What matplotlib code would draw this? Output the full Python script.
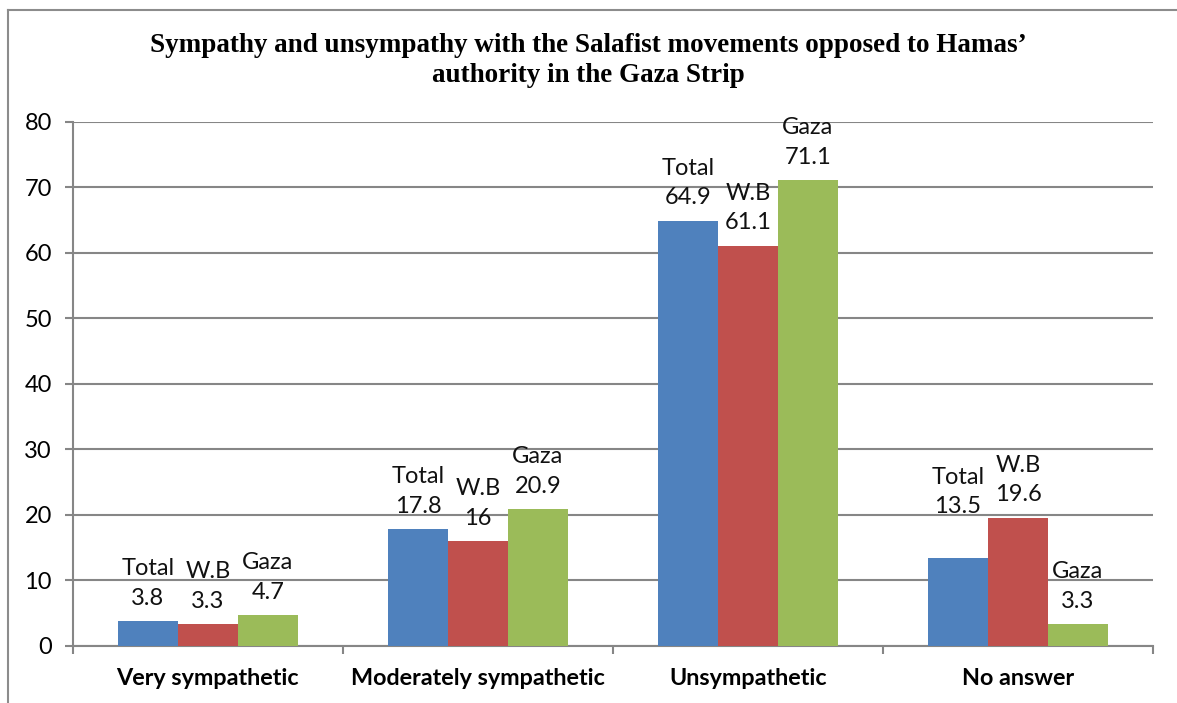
import numpy as np
import matplotlib.pyplot as plt
from matplotlib.lines import Line2D

categories = ["Very sympathetic", "Moderately sympathetic", "Unsympathetic", "No answer"]
series = ["Total", "W.B", "Gaza"]
total = [3.8, 17.8, 64.9, 13.5]
wb = [3.3, 16, 61.1, 19.6]
gaza = [4.7, 20.9, 71.1, 3.3]
yticks = [0, 10, 20, 30, 40, 50, 60, 70, 80]

colors = ["#4F81BD", "#C0504D", "#9BBB59"]
# labels that were dragged by hand in the original (dx, dy in points)
nudge = {(0, 3): (0, 20)}

plt.rcParams['font.family'] = ['Lato', 'DejaVu Sans']

fig = plt.figure(figsize=(11.77, 7.03), dpi=100)
ax = fig.add_axes([0.0618, 0.0811, 0.9178, 0.7454])

# chart border (top and left only visible in the crop)
fig.add_artist(Line2D([8 / 1177, 1], [1 - 9.5 / 703] * 2, color="#8c8c8c", lw=1.5,
                      transform=fig.transFigure))
fig.add_artist(Line2D([8 / 1177] * 2, [0, 1 - 9.5 / 703], color="#8c8c8c", lw=1.5,
                      transform=fig.transFigure))

x = np.arange(len(categories))
w = 0.222
for i, vals in enumerate([total, wb, gaza]):
    pos = x + (i - 1) * w
    ax.bar(pos, vals, width=w, color=colors[i], zorder=3)
    for j, v in enumerate(vals):
        dx, dy = nudge.get((i, j), (0, 0))
        ax.annotate(f"{series[i]}\n{v:g}", (pos[j], v), xytext=(dx, 9 + dy),
                    textcoords="offset points", ha="center", va="bottom",
                    fontsize=17, linespacing=1.5, color="#111111")

ax.set_ylim(0, 80)
ax.set_xlim(-0.5, len(categories) - 0.5)
ax.set_yticks(yticks)
ax.tick_params(axis="y", length=6, width=1.5, color="#868686", labelsize=17, pad=9)
ax.yaxis.grid(True, color="#868686", lw=1.5, zorder=0)
ax.set_axisbelow(True)

ax.set_xticks(x)
ax.set_xticklabels(categories, fontsize=16.8, fontweight="bold")
ax.tick_params(axis="x", length=0, pad=16)
ax.set_xticks(np.arange(len(categories) + 1) - 0.5, minor=True)
ax.tick_params(axis="x", which="minor", length=6, width=1.5, color="#868686")

for s in ["top", "right"]:
    ax.spines[s].set_visible(False)
for s in ["left", "bottom"]:
    ax.spines[s].set_color("#868686")
    ax.spines[s].set_linewidth(1.5)

fig.text(0.5, 1 - 45 / 703, "Sympathy and unsympathy with the Salafist movements opposed to Hamas\u2019",
         ha="center", va="center", fontsize=19.5, fontweight="bold", family="Liberation Serif")
fig.text(0.5, 1 - 76 / 703, "authority in the Gaza Strip",
         ha="center", va="center", fontsize=19.5, fontweight="bold", family="Liberation Serif")

fig.savefig("out.png", dpi=100)
